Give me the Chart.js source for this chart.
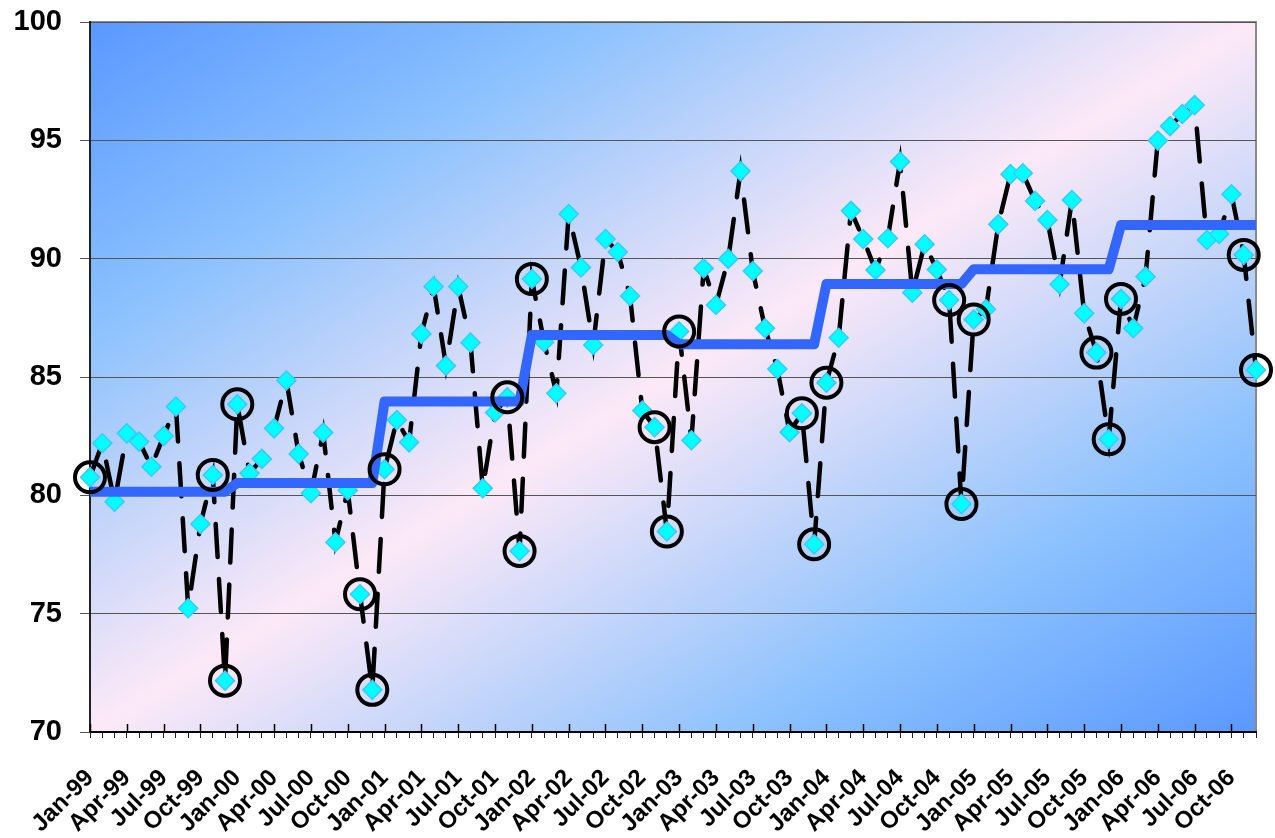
<!DOCTYPE html>
<html>
<head>
<meta charset="utf-8">
<title>Monthly index 1999-2006</title>
<script src="https://cdn.jsdelivr.net/npm/chart.js@4.4.1/dist/chart.umd.min.js"></script>
<style>
  html, body { margin: 0; padding: 0; background: #fff; }
  #wrap { width: 1275px; height: 838px; position: relative; }
</style>
</head>
<body>
<div id="wrap"><canvas id="chart"></canvas></div>
<script>
// ── Data ──────────────────────────────────────────────
const MONTHS = ['Jan', 'Feb', 'Mar', 'Apr', 'May', 'Jun', 'Jul', 'Aug', 'Sep', 'Oct', 'Nov', 'Dec'];
const YEARS = ['99', '00', '01', '02', '03', '04', '05', '06'];

// monthly values, Jan-99 .. Dec-06
const monthlyValues = [
  80.76, 82.20, 79.73, 82.62, 82.27, 81.21, 82.51, 83.75, 75.23, 78.79, 80.86, 72.17,
  83.85, 80.93, 81.54, 82.83, 84.85, 81.75, 80.09, 82.65, 78.02, 80.21, 75.82, 71.78,
  81.10, 83.18, 82.24, 86.82, 88.82, 85.48, 88.82, 86.45, 80.30, 83.50, 84.14, 77.65,
  89.14, 86.47, 84.31, 91.89, 89.63, 86.35, 90.83, 90.28, 88.42, 83.58, 82.88, 78.47,
  86.92, 82.33, 89.59, 88.04, 89.99, 93.70, 89.48, 87.06, 85.34, 82.67, 83.47, 77.93,
  84.76, 86.66, 92.02, 90.83, 89.52, 90.86, 94.10, 88.56, 90.61, 89.54, 88.25, 79.63,
  87.43, 87.86, 91.45, 93.57, 93.61, 92.44, 91.63, 88.92, 92.48, 87.69, 86.03, 82.37,
  88.30, 87.06, 89.24, 94.99, 95.60, 96.11, 96.49, 90.79, 91.04, 92.72, 90.16, 85.30,
];

// yearly level (blue step line), 1999 .. 2006
const yearLevels = [80.15, 80.52, 83.96, 86.77, 86.38, 88.93, 89.55, 91.42];

// months marked with a ring (Nov, Dec, Jan around each year end)
const circledIdx = [0, 10, 11, 12, 22, 23, 24, 34, 35, 36, 46, 47, 48,
  58, 59, 60, 70, 71, 72, 82, 83, 84, 94, 95];

const yTicks = [70, 75, 80, 85, 90, 95, 100];

// ── Build series ──────────────────────────────────────
const labels = [];
YEARS.forEach(y => MONTHS.forEach(m => labels.push(m + '-' + y)));

const levelSeries = labels.map((_, i) => yearLevels[Math.floor(i / 12)]);
const circledSeries = monthlyValues.map((v, i) => circledIdx.includes(i) ? v : null);

// plot background: diagonal blue / pink / blue gradient + grey frame
const plotBackground = {
  id: 'plotBackground',
  beforeDraw(chart) {
    const { ctx, chartArea: a } = chart;
    const w = a.right - a.left, h = a.bottom - a.top;
    const c = 2 / (1 / (w * w) + 1 / (h * h));
    const g = ctx.createLinearGradient(a.left, a.top, a.left + c / w, a.top + c / h);
    g.addColorStop(0, '#5a98ff');
    g.addColorStop(0.22, '#8cc2fd');
    g.addColorStop(0.5, '#fce9f7');
    g.addColorStop(0.78, '#8cc2fd');
    g.addColorStop(1, '#5a98ff');
    ctx.save();
    ctx.fillStyle = g;
    ctx.fillRect(a.left, a.top, w, h);
    ctx.strokeStyle = '#8a8a8a';
    ctx.lineWidth = 2;
    ctx.strokeRect(a.left, a.top, w, h);
    ctx.restore();
  },
  // quarterly tick marks pointing up into the plot
  afterDatasetsDraw(chart) {
    const { ctx, chartArea: a, scales: { x } } = chart;
    ctx.save();
    ctx.strokeStyle = '#000';
    ctx.lineWidth = 1.5;
    ctx.beginPath();
    labels.forEach((_, i) => {
      if (i % 3 !== 0) return;
      const px = Math.round(x.getPixelForValue(i)) + 0.5;
      ctx.moveTo(px, a.bottom);
      ctx.lineTo(px, a.bottom - 8);
    });
    ctx.stroke();
    ctx.restore();
  },
};

Chart.defaults.font.family = "'Liberation Sans', Arial, sans-serif";
Chart.defaults.color = '#000';

new Chart(document.getElementById('chart'), {
  type: 'line',
  data: {
    labels,
    datasets: [
      {
        label: 'Year end',
        data: circledSeries,
        showLine: false,
        pointStyle: 'circle',
        pointRadius: 15,
        pointBorderWidth: 4,
        pointBorderColor: '#000',
        pointBackgroundColor: 'rgba(0,0,0,0)',
        order: 0,
      },
      {
        label: 'Yearly level',
        data: levelSeries,
        borderColor: '#3366ff',
        borderWidth: 10,
        borderJoinStyle: 'round',
        pointRadius: 0,
        tension: 0,
        order: 1,
      },
      {
        label: 'Monthly',
        data: monthlyValues,
        borderColor: '#000',
        borderWidth: 4.5,
        borderDash: [33, 22],
        borderCapStyle: 'round',
        tension: 0,
        pointStyle: 'rectRot',
        pointRadius: 9.5,
        pointBackgroundColor: '#00ffff',
        pointBorderColor: '#33ccff',
        pointBorderWidth: 1.5,
        order: 2,
      },
    ],
  },
  options: {
    responsive: true,
    maintainAspectRatio: false,
    animation: false,
    layout: { padding: { top: 22, right: 13, left: 0, bottom: 0 } },
    plugins: {
      legend: { display: false },
      tooltip: { enabled: false },
    },
    scales: {
      x: {
        offset: false,
        border: { color: '#000', width: 2 },
        grid: {
          drawOnChartArea: false,
          tickLength: 6,
          color: '#222',
        },
        ticks: {
          autoSkip: false,
          minRotation: 45,
          maxRotation: 45,
          padding: 26,
          font: { size: 24, weight: 'bold' },
          callback: function (value, index) {
            return index % 3 === 0 ? this.getLabelForValue(value) : '';
          },
        },
        afterFit: (scale) => {
          scale.height = 106;
          scale.paddingLeft = 0;
          scale.paddingRight = 0;
        },
      },
      y: {
        min: 70,
        max: 100,
        border: { color: '#222', width: 2 },
        grid: { color: '#555', lineWidth: 1, tickLength: 10 },
        afterBuildTicks: (scale) => { scale.ticks = yTicks.map(v => ({ value: v })); },
        ticks: {
          padding: 18,
          font: { size: 29, weight: 'bold' },
        },
        afterFit: (scale) => {
          scale.width = 90;
          scale.paddingTop = 0;
          scale.paddingBottom = 0;
        },
      },
    },
  },
  plugins: [plotBackground],
});
</script>
</body>
</html>
